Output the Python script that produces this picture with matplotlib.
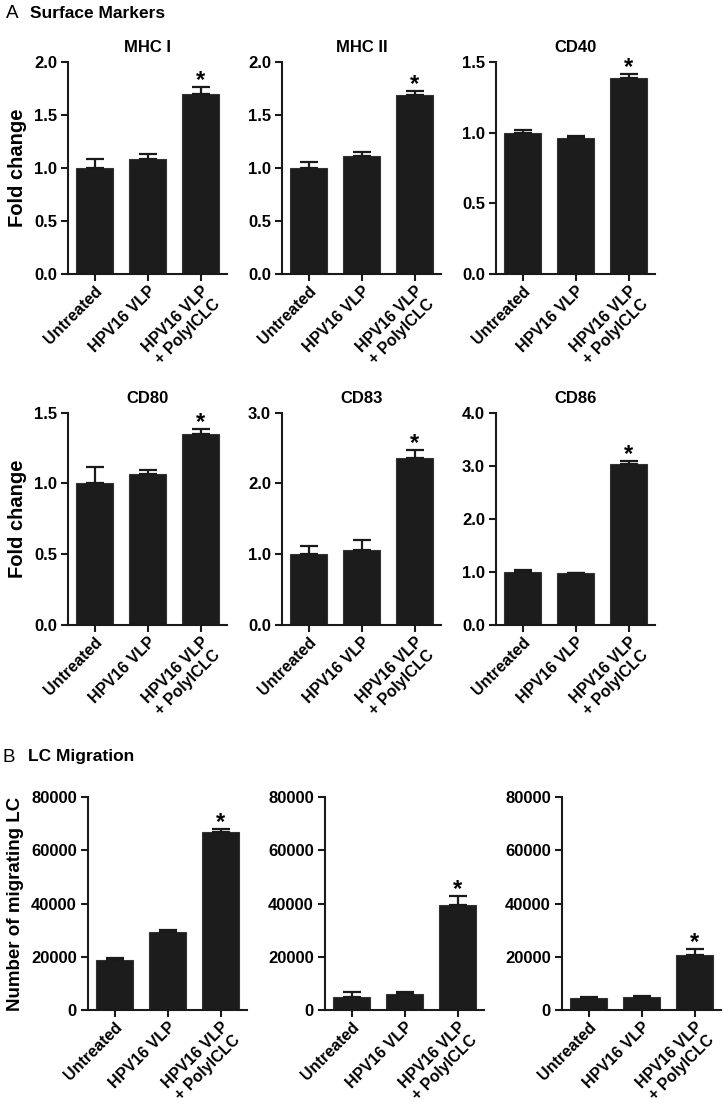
import matplotlib
matplotlib.use("Agg")
import matplotlib.pyplot as plt
import numpy as np

plt.rcParams['font.family'] = ['Liberation Sans', 'DejaVu Sans']
plt.rcParams['font.weight'] = 'bold'

categories = ["Untreated", "HPV16 VLP", "HPV16 VLP\n+ PolyICLC"]

# Panel A: surface markers (fold change)
mhc1_mean = [1.00, 1.085, 1.70]
mhc1_err = [0.085, 0.045, 0.06]
mhc2_mean = [1.00, 1.11, 1.69]
mhc2_err = [0.06, 0.045, 0.035]
cd40_mean = [1.00, 0.96, 1.385]
cd40_err = [0.02, 0.015, 0.03]
cd80_mean = [1.00, 1.066, 1.35]
cd80_err = [0.115, 0.028, 0.037]
cd83_mean = [1.00, 1.06, 2.36]
cd83_err = [0.12, 0.14, 0.11]
cd86_mean = [1.00, 0.97, 3.04]
cd86_err = [0.04, 0.01, 0.05]

# Panel B: LC migration (number of migrating LC)
mig1_mean = [18600, 29300, 66900]
mig1_err = [1000, 900, 1200]
mig2_mean = [4700, 6000, 39300]
mig2_err = [1900, 700, 3500]
mig3_mean = [4500, 4800, 20800]
mig3_err = [400, 500, 2100]

panels_A = [
    ("MHC I", mhc1_mean, mhc1_err, 2.0, [0.0, 0.5, 1.0, 1.5, 2.0], "{:.1f}"),
    ("MHC II", mhc2_mean, mhc2_err, 2.0, [0.0, 0.5, 1.0, 1.5, 2.0], "{:.1f}"),
    ("CD40", cd40_mean, cd40_err, 1.5, [0.0, 0.5, 1.0, 1.5], "{:.1f}"),
    ("CD80", cd80_mean, cd80_err, 1.5, [0.0, 0.5, 1.0, 1.5], "{:.1f}"),
    ("CD83", cd83_mean, cd83_err, 3.0, [0.0, 1.0, 2.0, 3.0], "{:.1f}"),
    ("CD86", cd86_mean, cd86_err, 4.0, [0.0, 1.0, 2.0, 3.0, 4.0], "{:.1f}"),
]
panels_B = [
    (mig1_mean, mig1_err),
    (mig2_mean, mig2_err),
    (mig3_mean, mig3_err),
]

W, H = 723, 1103
fig = plt.figure(figsize=(W / 100, H / 100), dpi=100)

bar_color = "#1c1c1c"
tick_fs = 12
cat_fs = 11.5
x = np.arange(3)


def style_axes(ax, ymax, yticks, fmt):
    ax.set_xlim(-0.5, 2.5)
    ax.set_ylim(0, ymax)
    ax.set_yticks(yticks)
    ax.set_yticklabels([fmt.format(t) for t in yticks], fontsize=tick_fs, fontweight='bold')
    ax.set_xticks(x)
    ax.set_xticklabels(categories, fontsize=cat_fs, fontweight='bold', rotation=45,
                       ha='right', va='top', rotation_mode='anchor', multialignment='center')
    for s in ['top', 'right']:
        ax.spines[s].set_visible(False)
    for s in ['left', 'bottom']:
        ax.spines[s].set_linewidth(1.5)
        ax.spines[s].set_color('#1a1a1a')
    ax.tick_params(axis='y', direction='out', length=5, width=1.5, color='#1a1a1a', pad=3)
    ax.tick_params(axis='x', direction='out', length=5, width=1.5, color='#1a1a1a', pad=2)


def draw_bars(ax, mean, err):
    ax.bar(x, mean, width=0.68, color=bar_color, edgecolor='#333333', linewidth=0.8, zorder=2)
    ax.errorbar(x, mean, yerr=[np.zeros(3), err], fmt='none', ecolor='#1a1a1a',
                elinewidth=1.6, capsize=6.5, capthick=1.6, zorder=3)
    ax.annotate("*", xy=(x[2], mean[2] + err[2]), xytext=(0, -3.5), textcoords='offset points',
                ha='center', va='bottom', fontsize=17, fontweight='bold')


row_bottoms_px = [274, 624.7]
left_px_A = [68, 282, 496]
axw = 159 / W
axh = 212 / H
for i, (title, mean, err, ymax, yticks, fmt) in enumerate(panels_A):
    r, c = divmod(i, 3)
    ax = fig.add_axes([left_px_A[c] / W, 1 - row_bottoms_px[r] / H, axw, axh])
    draw_bars(ax, mean, err)
    style_axes(ax, ymax, yticks, fmt)
    ax.set_title(title, fontsize=12, fontweight='bold', pad=7)
    if c == 0:
        ax.set_ylabel("Fold change", fontsize=14.5, fontweight='bold', labelpad=5)

left_px_B = [88, 325, 562]
for c, (mean, err) in enumerate(panels_B):
    ax = fig.add_axes([left_px_B[c] / W, 1 - 1009.8 / H, axw, 212.5 / H])
    draw_bars(ax, mean, err)
    yt = [0, 20000, 40000, 60000, 80000]
    style_axes(ax, 80000, yt, "{:d}")
    if c == 0:
        ax.set_ylabel("Number of migrating LC", fontsize=13.5, fontweight='bold', labelpad=5)

fig.text(6 / W, 1 - 13 / H, "A", fontsize=13.5, fontweight='normal', va='center', ha='left')
fig.text(30 / W, 1 - 13 / H, "Surface Markers", fontsize=12.5, fontweight='bold', va='center', ha='left')
fig.text(3 / W, 1 - 757 / H, "B", fontsize=13.5, fontweight='normal', va='center', ha='left')
fig.text(28 / W, 1 - 756 / H, "LC Migration", fontsize=12.5, fontweight='bold', va='center', ha='left')

fig.savefig("out.png", dpi=100)
